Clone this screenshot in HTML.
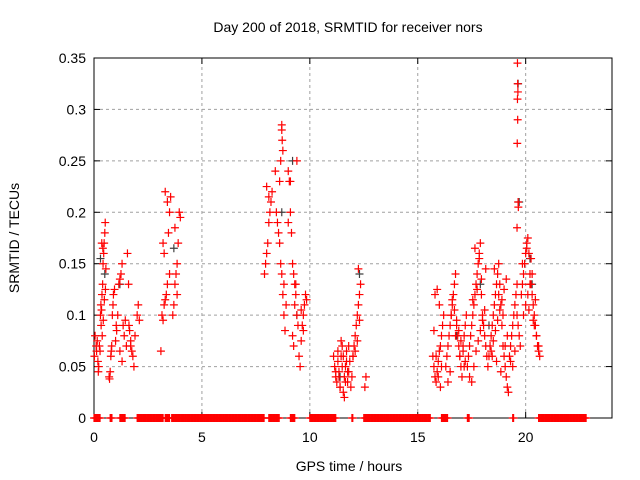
<!DOCTYPE html>
<html><head><meta charset="utf-8">
<style>
body{margin:0;background:#fff;}
svg{display:block;font-family:"Liberation Sans",sans-serif;}
</style></head>
<body>
<svg id="chart" width="640" height="480">
<rect width="640" height="480" fill="#fff"/>
<g id="grid"></g>
<g id="axes"></g>
<g id="pts"></g>
<text x="348" y="32" font-size="14" text-anchor="middle">Day 200 of 2018, SRMTID for receiver nors</text>
<text x="349" y="471" font-size="14" text-anchor="middle">GPS time / hours</text>
<text transform="translate(19,238) rotate(-90)" font-size="14" text-anchor="middle">SRMTID / TECUs</text>
</svg>
<script>
const xTicks=[0,5,10,15,20];
const yTicks=[0,0.05,0.1,0.15,0.2,0.25,0.3,0.35];
const yTickLabels=["0","0.05","0.1","0.15","0.2","0.25","0.3","0.35"];
const zeroRanges=[[0,0.3],[0.75,0.85],[1.2,1.45],[2.0,3.2],[3.3,3.5],[3.6,7.9],[8.1,8.6],[9.1,9.3],[10.0,11.2],[11.95,12.0],[12.5,15.6],[16.1,16.4],[17.3,17.4],[19.4,19.45],[20.6,22.8]];
const redT=[0.02,0.05,0.1,0.12,0.15,0.18,0.2,0.22,0.25,0.28,
0.3,0.32,0.35,0.37,0.4,0.42,0.45,0.47,0.5,0.52,0.55,0.33,0.38,0.43,0.48,0.53,0.36,0.41,
0.7,0.72,0.75,0.78,0.8,0.82,0.85,0.88,0.9,0.95,1.0,1.03,1.05,
1.1,1.15,1.2,1.25,1.3,1.35,1.4,1.45,1.5,1.3,1.2,
1.55,1.6,1.62,1.65,1.7,1.75,1.8,1.85,1.9,2.0,2.05,2.1,1.7,
3.1,3.15,3.2,3.25,3.3,3.35,3.4,3.45,3.5,3.55,3.3,3.4,3.2,3.25,3.5,
3.65,3.7,3.75,3.8,3.85,3.9,3.95,4.0,3.75,3.85,
7.9,7.95,8.0,8.05,8.1,8.15,8.2,8.25,8.1,8.0,
8.4,8.45,8.5,8.55,8.6,8.65,8.7,8.75,8.8,8.85,8.6,8.65,8.7,8.7,8.72,8.75,8.8,8.9,
9.0,9.05,9.1,9.15,9.2,9.25,9.3,9.35,9.4,9.45,9.2,9.25,9.3,9.35,9.4,9.1,9.0,
9.5,9.55,9.6,9.65,9.7,9.75,9.8,9.85,9.6,9.7,
11.1,11.15,11.2,11.25,11.3,11.35,11.4,11.45,11.5,11.55,11.6,11.65,11.7,11.75,11.8,11.85,11.9,11.95,12.0,11.2,11.3,11.4,11.5,11.6,11.7,11.8,11.35,11.55,11.75,11.45,11.65,
12.0,12.05,12.1,12.15,12.2,12.25,12.3,12.35,12.1,12.2,12.25,12.3,12.6,12.55,
15.7,15.75,15.8,15.85,15.9,15.95,16.0,16.05,16.1,16.15,16.2,15.8,15.9,16.0,15.75,15.85,16.1,15.95,16.05,
16.3,16.35,16.4,16.45,16.5,16.55,16.6,16.65,16.7,16.75,16.8,16.85,16.9,16.95,17.0,17.05,17.1,17.15,17.2,17.25,16.4,16.5,16.6,16.7,16.8,16.9,17.0,17.1,17.2,16.55,16.75,16.95,17.15,
17.3,17.35,17.4,17.45,17.5,17.55,17.6,17.65,17.7,17.75,17.8,17.85,17.9,17.95,18.0,18.05,18.1,18.15,18.2,17.4,17.5,17.6,17.7,17.8,17.9,18.0,18.1,17.55,17.75,17.95,18.15,17.85,17.65,
18.25,18.3,18.35,18.4,18.45,18.5,18.55,18.6,18.65,18.7,18.75,18.8,18.85,18.9,18.95,19.0,19.05,19.1,19.15,19.2,18.4,18.5,18.6,18.7,18.8,18.9,19.0,19.1,18.55,18.75,18.95,19.15,18.45,18.65,18.85,19.05,
19.25,19.3,19.35,19.4,19.45,19.5,19.55,19.6,19.65,19.7,19.75,19.4,19.5,19.6,19.3,
19.62,19.63,19.64,19.62,19.63,19.61,19.65,19.66,19.6,
19.8,19.85,19.9,19.95,20.0,20.05,20.1,20.15,20.2,20.25,20.3,20.35,20.4,20.45,20.5,20.55,20.6,20.65,19.9,20.0,20.1,20.2,20.3,20.4,20.5,20.6,19.85,20.05,20.25,20.45,20.15,20.35];
const redV=[0.06,0.08,0.07,0.065,0.075,0.055,0.045,0.05,0.07,0.065,
0.1,0.11,0.105,0.12,0.13,0.15,0.16,0.17,0.18,0.19,0.145,0.09,0.08,0.095,0.115,0.125,0.17,0.165,
0.04,0.038,0.045,0.06,0.065,0.07,0.1,0.11,0.12,0.125,0.075,0.09,0.085,
0.1,0.13,0.135,0.14,0.15,0.09,0.08,0.095,0.07,0.055,0.065,
0.16,0.13,0.09,0.085,0.07,0.065,0.06,0.05,0.08,0.1,0.11,0.095,0.075,
0.065,0.1,0.095,0.11,0.115,0.12,0.13,0.18,0.2,0.215,0.22,0.21,0.17,0.16,0.14,
0.1,0.11,0.13,0.14,0.15,0.17,0.2,0.195,0.185,0.12,
0.14,0.15,0.16,0.17,0.19,0.2,0.21,0.22,0.215,0.225,
0.24,0.2,0.19,0.18,0.17,0.15,0.14,0.12,0.1,0.085,0.23,0.25,0.28,0.285,0.27,0.26,0.13,0.11,
0.24,0.23,0.2,0.18,0.15,0.14,0.13,0.12,0.1,0.09,0.08,0.07,0.11,0.13,0.25,0.23,0.19,
0.06,0.05,0.075,0.09,0.1,0.11,0.12,0.115,0.105,0.085,
0.06,0.05,0.04,0.035,0.055,0.045,0.03,0.06,0.07,0.025,0.04,0.05,0.065,0.035,0.045,0.055,0.03,0.04,0.06,0.045,0.065,0.03,0.05,0.02,0.055,0.07,0.04,0.06,0.045,0.075,0.035,
0.06,0.07,0.08,0.09,0.1,0.11,0.12,0.13,0.065,0.075,0.145,0.095,0.04,0.03,
0.06,0.05,0.04,0.035,0.045,0.055,0.065,0.07,0.08,0.09,0.1,0.12,0.125,0.11,0.085,0.06,0.05,0.04,0.03,
0.05,0.06,0.07,0.08,0.09,0.1,0.11,0.12,0.13,0.14,0.09,0.08,0.07,0.06,0.05,0.04,0.07,0.08,0.09,0.1,0.035,0.045,0.115,0.105,0.095,0.085,0.075,0.065,0.055,0.1,0.08,0.06,0.05,
0.05,0.06,0.07,0.08,0.09,0.1,0.11,0.12,0.13,0.14,0.15,0.16,0.17,0.12,0.1,0.09,0.08,0.07,0.06,0.04,0.035,0.05,0.065,0.075,0.085,0.095,0.105,0.115,0.125,0.135,0.145,0.155,0.165,
0.05,0.06,0.07,0.08,0.09,0.1,0.11,0.12,0.13,0.14,0.15,0.13,0.11,0.09,0.07,0.06,0.05,0.04,0.03,0.025,0.065,0.075,0.085,0.095,0.105,0.115,0.125,0.135,0.145,0.12,0.1,0.08,0.06,0.055,0.045,0.07,
0.06,0.07,0.08,0.09,0.1,0.11,0.12,0.13,0.09,0.08,0.07,0.05,0.065,0.1,0.055,
0.345,0.325,0.317,0.31,0.29,0.267,0.21,0.205,0.185,
0.12,0.13,0.14,0.15,0.16,0.17,0.175,0.16,0.14,0.13,0.12,0.11,0.1,0.09,0.08,0.07,0.065,0.06,0.1,0.11,0.12,0.13,0.14,0.09,0.08,0.07,0.15,0.165,0.155,0.115,0.105,0.095];
const grayT=[0.3,0.5,1.2,3.7,8.7,9.2,9.4,12.3,17.9,18.3,19.7,19.65,20.3,20.2,16.8,11.4];
const grayV=[0.155,0.14,0.13,0.165,0.2,0.25,0.1,0.14,0.13,0.09,0.21,0.325,0.13,0.155,0.08,0.04];

const X0=94,X1=612,Y0=418,Y1=58,XMAX=24,YMAX=0.35;
const sx=t=>X0+(X1-X0)*t/XMAX;
const sy=v=>Y0-(Y0-Y1)*v/YMAX;
const NS="http://www.w3.org/2000/svg";
function mk(tag,attrs,parent){const e=document.createElementNS(NS,tag);for(const k in attrs)e.setAttribute(k,attrs[k]);parent.appendChild(e);return e;}
const grid=document.getElementById('grid'),axes=document.getElementById('axes'),pts=document.getElementById('pts');
xTicks.forEach((t,i)=>{
  if(t>0){const l=mk('line',{x1:sx(t),x2:sx(t),y1:Y0,y2:Y1,stroke:'#a0a0a0','stroke-dasharray':'3,3'},grid);
  
  }
  mk('line',{x1:sx(t),x2:sx(t),y1:Y0,y2:Y0-6,stroke:'#000'},axes);
  mk('line',{x1:sx(t),x2:sx(t),y1:Y1,y2:Y1+6,stroke:'#000'},axes);
  const tx=mk('text',{x:sx(t),y:Y0+24,'font-size':14,'text-anchor':'middle'},axes);tx.textContent=t;
  
  
});
yTicks.forEach((v,i)=>{
  if(v>0&&v<YMAX){const l=mk('line',{x1:X0,x2:X1,y1:sy(v),y2:sy(v),stroke:'#a0a0a0','stroke-dasharray':'3,3'},grid);
  
  }
  mk('line',{x1:X0,x2:X0+6,y1:sy(v),y2:sy(v),stroke:'#000'},axes);
  mk('line',{x1:X1,x2:X1-6,y1:sy(v),y2:sy(v),stroke:'#000'},axes);
  const tx=mk('text',{x:X0-8,y:sy(v)+5,'font-size':14,'text-anchor':'end'},axes);tx.textContent=yTickLabels[i];
  
  
});
mk('rect',{x:X0,y:Y1,width:X1-X0,height:Y0-Y1,fill:'none',stroke:'#000','stroke-width':1},axes);
function plus(t,v,c){const x=sx(t),y=sy(v);
  const p=mk('path',{d:`M${x-4},${y}H${x+4}M${x},${y-4}V${y+4}`,stroke:c,'stroke-width':1.2},pts);
  
  }
zeroRanges.forEach(r=>{for(let t=r[0];t<=r[1]+1e-9;t+=0.04)plus(t,0,'#f00');});
grayT.forEach((t,i)=>plus(t,grayV[i],'#404040'));
redT.forEach((t,i)=>plus(t,redV[i],'#f00'));
</script>
</body></html>
